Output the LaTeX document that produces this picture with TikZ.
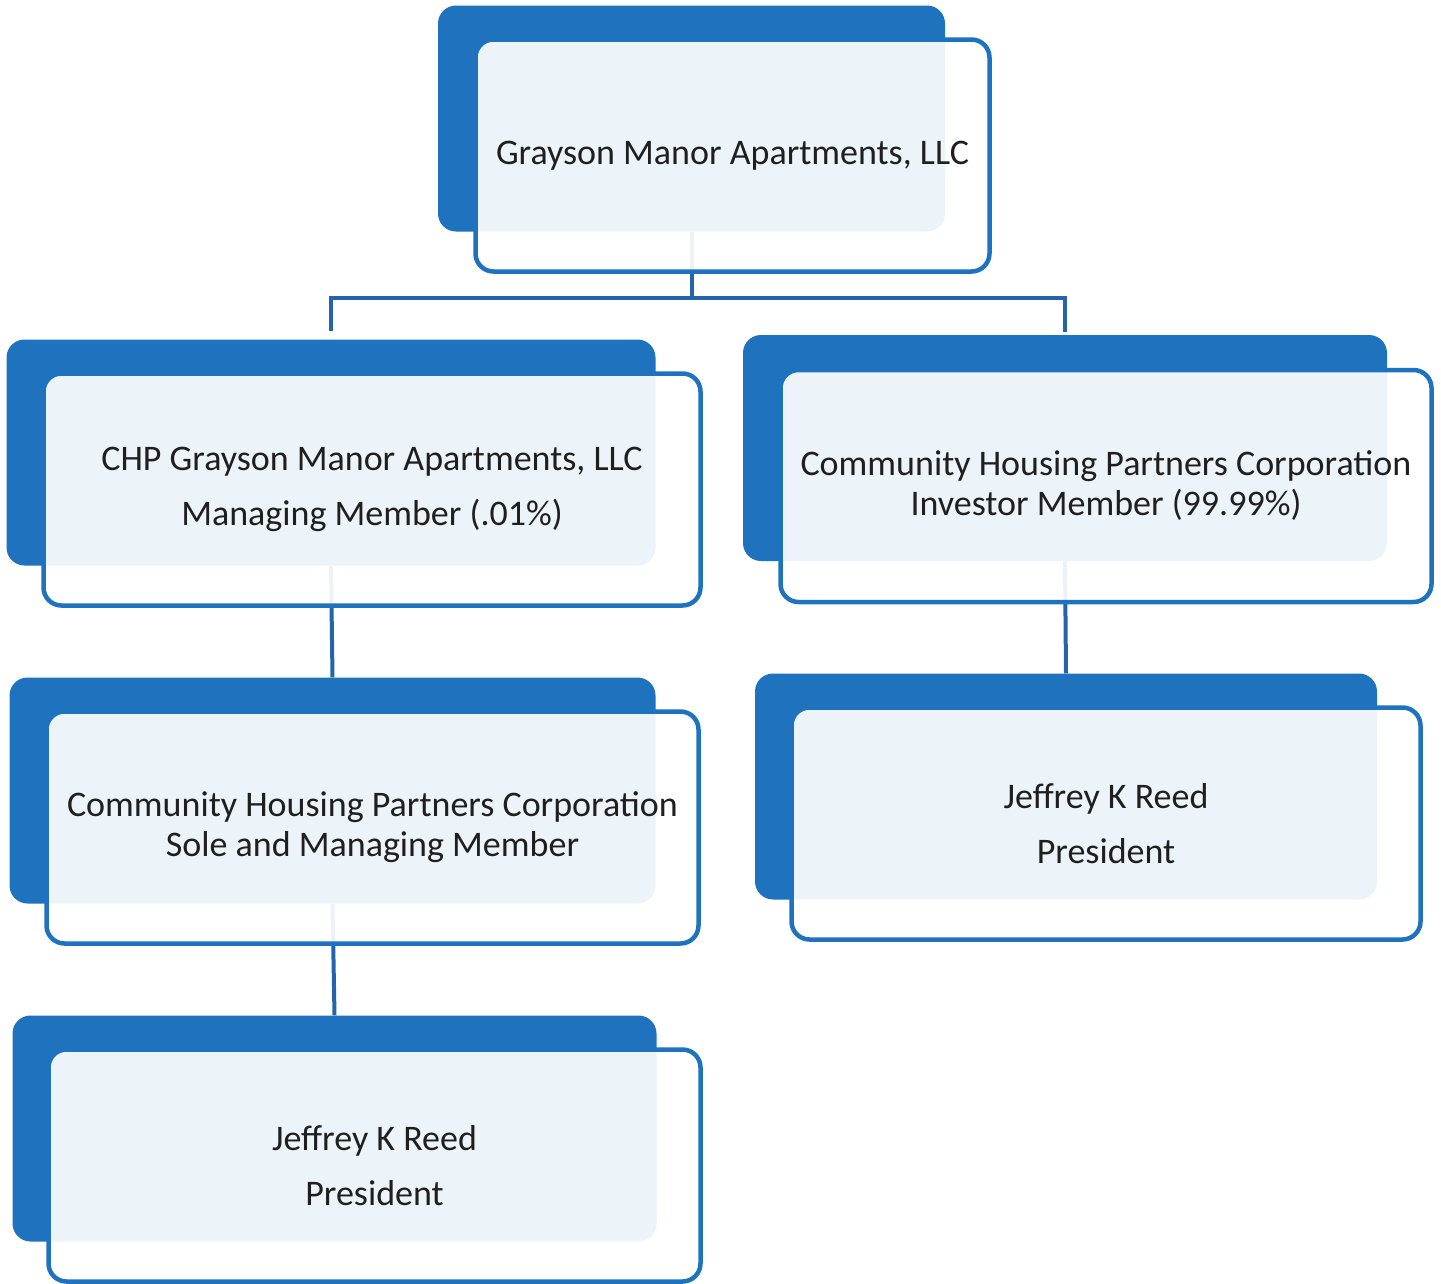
\documentclass[tikz,border=0pt]{standalone}
\usepackage{fontspec}
\setmainfont{Carlito}
\usetikzlibrary{positioning}
\usetikzlibrary{calc}
\usetikzlibrary{backgrounds}
\definecolor{boxblue}{RGB}{31,115,190}
\definecolor{lineblue}{RGB}{35,100,170}
\tikzset{
  frontbox/.style={draw=boxblue, line width=4.5pt, rounded corners=18pt, fill=white, fill opacity=0.92, text opacity=1, text=black!88, align=center, font=\fontsize{36}{42}\selectfont, minimum height=232pt},
  backbox/.style={fill=boxblue, rounded corners=18pt, minimum height=226pt},
  conn/.style={draw=lineblue, line width=4pt}
}

\begin{document}
\begin{tikzpicture}[x=1pt,y=-1pt]
        \useasboundingbox (0,0) rectangle (1441,1283);
        % front boxes %
        \node[frontbox, minimum width=514pt] (gma) at (732.5,155.5) {Grayson Manor Apartments, LLC};
        \node[frontbox, minimum width=657pt] (chp) at (372,489.5) {CHP Grayson Manor Apartments, LLC\\[13pt]Managing Member (.01\%)};
        \node[frontbox, minimum width=651pt] (inv) at (1106,486) {Community Housing Partners Corporation\\[-2pt]Investor Member (99.99\%)};
        \node[frontbox, minimum width=652pt] (sole) at (372.5,827.5) {Community Housing Partners Corporation\\[-2pt]Sole and Managing Member};
        \node[frontbox, minimum width=629pt] (presr) at (1106,823.5) {Jeffrey K Reed\\[13pt]President};
        \node[frontbox, minimum width=652pt] (presl) at (374.5,1165.5) {Jeffrey K Reed\\[13pt]President};
        \begin{scope}[on background layer]
        % back boxes %
        \node[backbox, minimum width=507pt] (gmaB) at ($(gma)+(-41,-37)$) {};
        \node[backbox, minimum width=649pt] (chpB) at ($(chp)+(-41,-37)$) {};
        \node[backbox, minimum width=644pt] (invB) at ($(inv)+(-41,-38)$) {};
        \node[backbox, minimum width=646pt] (soleB) at ($(sole)+(-40,-37)$) {};
        \node[backbox, minimum width=622pt] (presrB) at ($(presr)+(-40,-37)$) {};
        \node[backbox, minimum width=644pt] (preslB) at ($(presl)+(-40,-37)$) {};
        % edges %
        \coordinate (bar) at ($(gmaB.south)+(0,66)$);
        \draw[conn] (gmaB.south) -- (bar);
        \draw[conn] ($(chpB.north)+(0,-8)$) |- (bar) -| ($(invB.north)+(0,-3)$);
        \draw[conn] (chpB.south) -- (soleB.north);
        \draw[conn] (soleB.south) -- (preslB.north);
        \draw[conn] (invB.south) -- (presrB.north);
        \end{scope}
      \end{tikzpicture}
\end{document}
